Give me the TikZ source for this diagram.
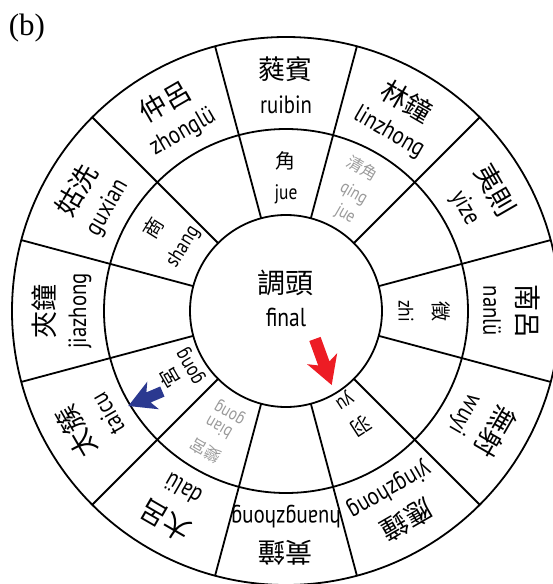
\documentclass[tikz,border=0pt]{standalone}
\usepackage{fontspec}
\setmainfont{Liberation Serif}
\newfontfamily\cjk{Noto Sans CJK TC}
\newfontfamily\py[FakeStretch=0.83]{PT Sans}
\definecolor{grayt}{HTML}{9A9A9A}
\definecolor{redarr}{HTML}{ED1C24}
\definecolor{bluearr}{HTML}{2B3990}
\tikzset{
  ring/.style={circle, draw, line width=1.8pt, inner sep=0pt, outer sep=0pt},
  spoke/.style={line width=1.8pt},
  zhO/.style={font=\cjk\fontsize{27}{29}\selectfont, inner sep=0pt},
  pyO/.style={font=\py\fontsize{25}{27}\selectfont, inner sep=0pt},
  zhM/.style={font=\cjk\fontsize{20}{22}\selectfont, inner sep=0pt},
  pyM/.style={font=\py\fontsize{21}{23}\selectfont, inner sep=0pt},
  zhG/.style={font=\cjk\fontsize{16}{18}\selectfont, inner sep=0pt, text=grayt},
  pyG/.style={font=\py\fontsize{18}{20}\selectfont, inner sep=0pt, text=grayt},
}
\begin{document}
\begin{tikzpicture}[x=1pt,y=1pt]
\useasboundingbox (-286,-273) rectangle (267,311);
\node[ring, minimum size=548pt] (outer) at (0,0) {};
\node[ring, minimum size=364pt] (middle) at (0,0) {};
\node[ring, minimum size=192pt] (inner) at (0,0) {};
\foreach \a in {15,45,...,345}{
  \draw[spoke] (inner.\a) -- (outer.\a);
}
% outer ring labels
\foreach \a/\c/\p [count=\i] in {90/蕤賓/ruibin, 60/林鐘/linzhong, 30/夷則/yize, 0/南呂/nanlü, -30/無射/wuyi, -60/應鐘/yingzhong, -90/黃鐘/huangzhong, -120/大呂/dalü, -150/太簇/taicu, 180/夾鐘/jiazhong, 150/姑洗/guxian, 120/仲呂/zhonglü}{
  \node[zhO, rotate=\a-90] (oz\i) at (\a:242) {\c};
  \node[pyO, rotate=\a-90] (op\i) at (\a:206) {\p};
}
% middle ring labels
\foreach \a/\r/\s/\c/\p [count=\i] in {90/150/117/角/jue, 0/155/120/徵/zhi, -57/137/106/羽/yu, -150/134/109/宮/gong, 148/156/121/商/shang}{
  \node[zhM, rotate=\a-90] (mz\i) at (\a:\r) {\c};
  \node[pyM, rotate=\a-90] (mp\i) at (\a:\s) {\p};
}
\node[zhG, rotate=-30] (qz) at (62:162) {清角};
\node[pyG, rotate=-30] (qp1) at (60:135) {qing};
\node[pyG, rotate=-30] (qp2) at (58.5:113) {jue};
\node[zhG, rotate=150] (bz) at (240:161) {變宮};
\node[pyG, rotate=150] (bp1) at (240:135) {bian};
\node[pyG, rotate=150] (bp2) at (241:115) {gong};
% centre
\node[font=\cjk\fontsize{28}{30}\selectfont, inner sep=0pt] (cz) at (0,28) {調頭};
\node[font=\py\fontsize{26}{28}\selectfont, inner sep=0pt] (cp) at (0,-6) {final};
% arrows
\fill[redarr, shift={(45.7,-74)}, rotate=-70]
  (0,0) -- (-28,16) -- (-23,6) -- (-49,6) -- (-49,-6) -- (-23,-6) -- (-28,-16) -- cycle;
\fill[bluearr, shift={(-157.7,-95)}, rotate=203]
  (0,0) -- (-27,15) -- (-22,5.5) -- (-37,5.5) -- (-37,-5.5) -- (-22,-5.5) -- (-27,-15) -- cycle;
% panel label
\node[font=\fontsize{31}{33}\selectfont, inner sep=0pt] (lab) at (-259,283) {(b)};
\end{tikzpicture}
\end{document}
